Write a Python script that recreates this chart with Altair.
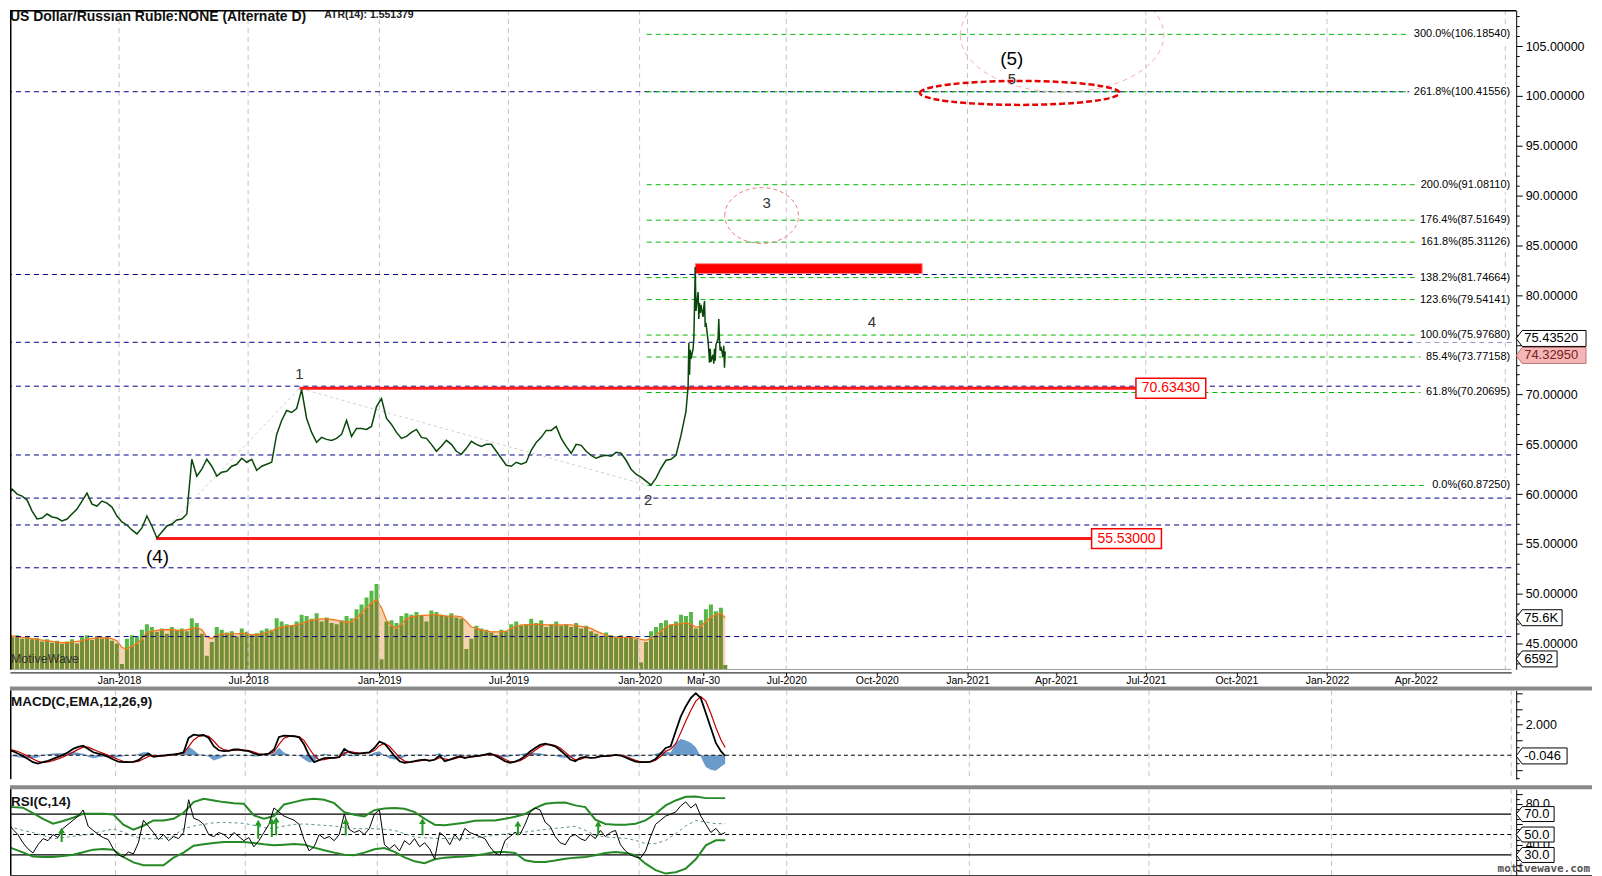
import altair as alt
import pandas as pd

FONT = "Liberation Sans"
W, H1, H2, H3 = 1505, 661, 89, 86

# ---------------- data ----------------
price_weekly_start = "2017-07-28"
price_weekly = [
    59.8, 60.5, 60.0, 59.8, 59.4, 58.3, 57.5, 57.6, 58.0, 57.7,
    57.6, 57.3, 57.5, 58.0, 58.5, 59.3, 60.1, 59.0, 58.8, 59.3,
    59.1, 58.7, 57.8, 57.2, 56.9, 56.4, 56.0, 56.6, 57.8, 56.8,
    55.6, 56.2, 56.8, 57.0, 57.4, 57.5, 58.0, 63.5, 61.8, 62.5,
    63.5, 62.8, 61.8, 62.2, 62.3, 62.8, 63.0, 63.6, 63.2, 63.5,
    62.4, 62.8, 63.0, 63.2, 66.0, 67.4, 68.4, 68.2, 68.6, 70.5,
    67.6, 66.2, 65.2, 65.7, 65.5, 65.4, 65.6, 66.0, 67.4, 65.8,
    66.6, 66.6, 66.5, 66.8, 68.8, 69.6, 67.6, 67.0, 66.2, 65.6,
    65.8, 66.2, 66.5, 65.7, 65.6, 65.0, 64.3, 64.8, 65.4, 65.0,
    64.3, 64.0, 64.6, 65.3, 65.0, 64.8, 65.0, 65.0, 64.3, 63.6,
    62.9, 62.8, 63.2, 63.0, 63.2, 64.4, 65.2, 65.7, 66.4, 66.4,
    66.8, 65.6, 64.8, 64.1, 65.0, 64.9, 64.3, 63.9, 63.6, 63.8,
    63.9, 63.8, 64.2, 64.1, 63.4, 62.5, 62.0, 61.7, 61.3, 60.9,
    61.6, 62.6, 63.4, 63.5, 63.9, 65.9, 68.3]
late_dates = [
    "2020-03-09", "2020-03-10", "2020-03-11", "2020-03-12", "2020-03-13",
    "2020-03-16", "2020-03-17", "2020-03-18", "2020-03-19", "2020-03-20",
    "2020-03-23", "2020-03-24", "2020-03-25", "2020-03-26", "2020-03-27",
    "2020-03-30", "2020-03-31", "2020-04-01", "2020-04-02", "2020-04-03",
    "2020-04-06", "2020-04-07", "2020-04-08", "2020-04-09", "2020-04-10",
    "2020-04-13", "2020-04-14", "2020-04-15", "2020-04-16", "2020-04-17",
    "2020-04-20", "2020-04-21", "2020-04-22", "2020-04-23", "2020-04-24",
    "2020-04-27", "2020-04-28", "2020-04-29", "2020-04-30"]
late_prices = [
    70.8, 75.2, 72.0, 74.5, 73.6, 74.6, 75.6, 79.0, 82.8, 78.4,
    80.3, 77.6, 79.2, 78.2, 79.0, 77.8, 78.8, 79.4, 76.8, 77.2,
    75.4, 74.4, 73.2, 74.6, 73.3, 74.0, 73.1, 74.6, 73.4, 75.0,
    75.6, 77.6, 75.4, 74.4, 74.8, 73.8, 74.9, 72.7, 74.33]

# indicators: weekly from 2017-07-28 (144 weeks) + 2020-04-30
vol_k = [
    52, 47, 50, 45, 49, 44, 46, 41, 44, 39,
    42, 37, 41, 44, 38, 47, 50, 43, 49, 45,
    48, 42, 38, 8, 45, 50, 48, 58, 66, 62,
    55, 60, 52, 62, 58, 60, 56, 75, 68, 52,
    20, 40, 62, 58, 54, 56, 48, 60, 55, 50,
    53, 57, 60, 58, 75, 70, 66, 65, 70, 80,
    78, 74, 82, 70, 76, 68, 66, 72, 78, 75,
    88, 95, 105, 115, 125, 15, 70, 72, 68, 78,
    82, 80, 84, 78, 70, 86, 84, 80, 78, 82,
    76, 74, 30, 45, 64, 60, 58, 54, 50, 58,
    56, 66, 70, 64, 66, 74, 68, 72, 62, 66,
    70, 64, 66, 62, 68, 60, 64, 56, 52, 48,
    54, 50, 48, 50, 46, 49, 44, 10, 40, 56,
    62, 68, 72, 66, 70, 80, 78, 84, 60, 72,
    88, 95, 85, 90, 6.6]
vol_ma_k = [
    49, 49, 48, 47, 46, 45, 44, 43, 42, 41,
    40, 39, 39, 40, 41, 42, 44, 45, 46, 46.5,
    46, 45, 42, 32, 30, 34, 38, 44, 54, 56,
    57, 58, 58, 58, 57, 57, 58, 60, 61, 58,
    48, 45, 50, 52, 52, 52, 52, 53, 52, 51,
    51, 52, 54, 56, 60, 62, 63, 64, 65, 67,
    70, 72, 73, 74, 74, 73, 72, 70, 69, 70,
    75, 82, 90, 97, 102, 90, 72, 64, 60, 66,
    74, 77, 78, 79, 79, 80, 80, 79, 78, 78,
    78, 77, 70, 62, 60, 58, 56, 55, 55, 55,
    56, 60, 63, 65, 65, 66, 66, 66, 65, 65,
    65, 65, 65, 65, 64, 63, 62, 60, 56, 53,
    50, 48, 47, 47, 47, 47, 46, 44, 43, 45,
    50, 56, 62, 65, 66, 67, 68, 66, 62, 63,
    70, 76, 80, 82, 75.6]
macd_vals = [
    0.37, 0.32, 0.26, 0.11, -0.06, -0.24, -0.45, -0.54, -0.45, -0.37,
    -0.24, -0.11, 0.02, 0.19, 0.41, 0.54, 0.62, 0.41, 0.19, 0.11,
    0.02, -0.11, -0.28, -0.41, -0.45, -0.45, -0.43, -0.32, -0.06, 0.11,
    -0.11, -0.06, -0.02, 0.02, 0.06, 0.11, 0.19, 1.12, 1.33, 1.29,
    1.31, 1.12, 0.58, 0.32, 0.26, 0.28, 0.37, 0.37, 0.30, 0.26,
    0.11, 0.02, 0.06, 0.11, 0.37, 1.18, 1.27, 1.25, 1.23, 1.16,
    0.69, -0.02, -0.45, -0.32, -0.19, -0.17, -0.17, -0.11, 0.41, 0.19,
    0.11, 0.11, 0.15, 0.19, 0.47, 0.88, 0.75, 0.37, -0.06, -0.39,
    -0.49, -0.45, -0.39, -0.32, -0.28, -0.37, -0.28, -0.02, -0.39, -0.28,
    -0.17, -0.06, -0.19, -0.11, -0.06, -0.02, 0.04, 0.11, -0.02, -0.19,
    -0.39, -0.49, -0.41, -0.28, -0.06, 0.24, 0.47, 0.67, 0.75, 0.67,
    0.58, 0.32, 0.04, -0.28, -0.39, -0.17, -0.11, -0.17, -0.15, -0.06,
    -0.06, -0.02, 0.02, -0.02, -0.15, -0.28, -0.41, -0.45, -0.45, -0.41,
    -0.24, 0.11, 0.47, 0.58, 1.55, 2.5, 3.16, 3.7, 4.02, 3.7,
    2.73, 1.76, 0.8, 0.26, -0.05]
signal_vals = [
    0.42, 0.38, 0.33, 0.24, 0.10, -0.06, -0.24, -0.40, -0.47, -0.44,
    -0.35, -0.24, -0.11, 0.03, 0.20, 0.38, 0.52, 0.52, 0.38, 0.24,
    0.12, 0.00, -0.14, -0.28, -0.39, -0.43, -0.44, -0.40, -0.25, -0.08,
    -0.03, -0.04, -0.05, -0.01, 0.02, 0.07, 0.13, 0.55, 0.99, 1.22,
    1.28, 1.22, 0.92, 0.55, 0.36, 0.30, 0.32, 0.35, 0.34, 0.30,
    0.20, 0.09, 0.06, 0.08, 0.22, 0.70, 1.10, 1.22, 1.24, 1.20,
    0.95, 0.45, -0.02, -0.30, -0.28, -0.20, -0.17, -0.14, 0.12, 0.25,
    0.18, 0.13, 0.13, 0.16, 0.30, 0.62, 0.76, 0.58, 0.22, -0.15,
    -0.38, -0.45, -0.42, -0.37, -0.31, -0.33, -0.31, -0.16, -0.24, -0.30,
    -0.22, -0.12, -0.14, -0.13, -0.09, -0.05, 0.00, 0.06, 0.04, -0.08,
    -0.26, -0.41, -0.44, -0.35, -0.18, 0.06, 0.32, 0.54, 0.68, 0.70,
    0.63, 0.46, 0.20, -0.08, -0.30, -0.27, -0.15, -0.15, -0.15, -0.10,
    -0.07, -0.04, 0.00, 0.00, -0.08, -0.20, -0.33, -0.42, -0.45, -0.43,
    -0.33, -0.08, 0.25, 0.40, 0.75, 1.45, 2.2, 2.9, 3.5, 3.8,
    3.5, 2.7, 1.8, 1.0, 0.5]
hist_vals = [
    -0.05, -0.06, -0.07, -0.13, -0.16, -0.18, -0.21, -0.14, 0.02, 0.07,
    0.11, 0.13, 0.13, 0.16, 0.21, 0.16, 0.10, -0.11, -0.19, -0.13,
    -0.10, -0.11, -0.14, -0.13, -0.06, -0.02, 0.01, 0.08, 0.19, 0.19,
    -0.08, -0.02, 0.03, 0.03, 0.04, 0.04, 0.06, 0.57, 0.34, 0.07,
    0.03, -0.10, -0.34, -0.23, -0.10, -0.02, 0.05, 0.02, -0.04, -0.04,
    -0.09, -0.07, 0.00, 0.03, 0.15, 0.48, 0.17, 0.03, -0.01, -0.04,
    -0.26, -0.47, -0.43, -0.02, 0.09, 0.03, 0.00, 0.03, 0.29, -0.06,
    -0.07, -0.02, 0.02, 0.03, 0.17, 0.26, -0.01, -0.21, -0.28, -0.24,
    -0.11, 0.00, 0.03, 0.05, 0.03, -0.04, 0.03, 0.14, -0.15, 0.02,
    0.05, 0.06, -0.05, 0.02, 0.03, 0.03, 0.04, 0.05, -0.06, -0.11,
    -0.13, -0.08, 0.03, 0.07, 0.12, 0.18, 0.15, 0.13, 0.07, -0.03,
    -0.05, -0.14, -0.16, -0.20, -0.09, 0.10, 0.04, -0.02, 0.00, 0.04,
    0.01, 0.02, 0.02, -0.02, -0.07, -0.08, -0.08, -0.03, 0.00, 0.02,
    0.09, 0.19, 0.22, 0.18, 0.80, 1.05, 0.96, 0.80, 0.52, -0.10,
    -0.77, -0.94, -1.00, -0.74, -0.55]
rsi_vals = [
    58, 62, 55, 50, 42, 36, 32, 40, 46, 44,
    50, 47, 56, 60, 64, 68, 74, 58, 54, 50,
    47, 45, 36, 30, 28, 33, 31, 42, 64, 58,
    52, 45, 50, 44, 48, 46, 52, 84, 66, 64,
    60, 50, 48, 52, 50, 46, 52, 48, 44, 47,
    38, 44, 52, 60, 76, 72, 68, 66, 64, 60,
    45, 34, 38, 50, 46, 48, 44, 50, 70, 55,
    52, 54, 50, 56, 70, 74, 40, 36, 40, 34,
    44, 40, 46, 38, 42, 36, 26, 52, 48, 40,
    50, 44, 56, 52, 50, 48, 46, 38, 32, 30,
    44, 48, 52, 50, 60, 72, 76, 74, 62, 58,
    48, 42, 40, 48, 50, 46, 44, 50, 46, 54,
    48, 52, 54, 40, 34, 30, 28, 27, 34, 48,
    60, 64, 68, 70, 72, 78, 82, 76, 80, 68,
    60, 52, 56, 50, 52]
# RSI bands: every two weeks from 2017-07-28 (72) + 2020-04-30
band_upper = [
    76.8, 76.8, 76.2, 71.0, 65.4, 60.6, 63.2, 66.4, 70.3, 70.3,
    70.3, 69.7, 59.6, 54.7, 58.6, 63.8, 63.8, 65.4, 71.3, 81.7,
    85.0, 83.3, 81.7, 80.7, 80.1, 68.7, 65.4, 68.1, 79.4, 81.7,
    84.0, 85.0, 84.0, 80.7, 71.9, 69.4, 67.7, 73.9, 75.5, 75.9,
    75.2, 71.9, 65.4, 59.6, 59.0, 60.3, 61.5, 63.5, 63.8, 63.8,
    65.4, 67.4, 70.0, 75.9, 80.1, 81.1, 81.4, 78.5, 76.8, 64.5,
    60.3, 59.6, 59.6, 60.6, 63.8, 70.3, 78.5, 83.3, 86.9, 87.2,
    85.6, 85.6, 85.6]
band_lower = [
    39.4, 36.2, 32.6, 28.4, 28.0, 28.0, 29.0, 30.3, 32.6, 35.2,
    35.9, 35.2, 28.0, 22.8, 19.9, 19.9, 19.9, 27.4, 32.3, 39.1,
    40.4, 41.7, 42.7, 42.7, 42.7, 41.7, 40.4, 39.4, 40.1, 40.7,
    40.1, 37.2, 34.6, 32.3, 30.3, 29.7, 32.3, 35.5, 36.8, 33.0,
    27.7, 23.8, 21.9, 25.8, 27.4, 28.0, 28.4, 29.4, 31.0, 33.0,
    33.0, 32.0, 24.8, 23.2, 23.2, 24.5, 26.4, 27.4, 28.0, 29.7,
    32.0, 33.0, 32.0, 29.7, 21.5, 15.1, 11.8, 13.1, 16.7, 25.8,
    39.4, 44.3, 44.3]
band_mid = [
    59.0, 56.7, 54.1, 51.8, 49.2, 45.9, 46.9, 48.2, 49.2, 51.1,
    53.4, 55.4, 52.4, 48.2, 45.9, 45.9, 45.9, 48.5, 55.7, 58.3,
    59.9, 61.5, 61.9, 61.5, 60.9, 59.0, 56.7, 56.0, 58.3, 59.9,
    60.3, 59.6, 59.0, 58.3, 57.0, 55.7, 55.7, 55.7, 55.0, 54.1,
    50.8, 47.6, 46.9, 46.3, 45.9, 45.9, 45.9, 46.9, 47.9, 49.2,
    50.5, 51.8, 52.4, 53.7, 55.0, 56.0, 57.0, 58.0, 54.1, 49.2,
    47.6, 46.9, 46.3, 44.3, 41.1, 41.1, 44.3, 50.8, 58.3, 63.8,
    62.2, 60.6, 60.6]
arrow_dates = ["2017-10-18", "2018-07-19", "2018-08-07", "2018-08-13",
               "2018-11-18", "2019-03-05", "2019-07-16", "2019-11-05"]
arrow_base = [42.7, 45.9, 47.6, 49.2, 49.2, 49.2, 49.2, 49.2]
arrow_tip = [54.1, 61.5, 63.2, 64.5, 63.2, 63.2, 60.6, 60.6]

fib_pct = ["300.0%", "261.8%", "200.0%", "176.4%", "161.8%", "138.2%",
           "123.6%", "100.0%", "85.4%", "61.8%", "0.0%"]
fib_val = [106.18540, 100.41556, 91.08110, 87.51649, 85.31126, 81.74664,
           79.54141, 75.97680, 73.77158, 70.20695, 60.87250]
fib_start = "2020-01-11"
blue_levels = [100.42, 82.06, 75.25, 70.84, 63.93, 59.6, 56.9, 52.6, 45.69]
red_levels = [70.6343, 55.53]
red_start = ["2018-09-11", "2018-02-22"]
red_end = ["2021-06-21", "2021-05-07"]
red_text = ["70.63430", "55.53000"]
zone_start, zone_end, zone_lo, zone_hi = "2020-03-19", "2020-11-16", 82.15, 83.15
wave_path_dates = ["2018-02-22", "2018-09-11", "2020-01-13"]
wave_path_vals = [55.53, 70.63, 60.87]
big_labels = ["(4)", "(5)"]
big_dates = ["2018-02-24", "2021-02-15"]
big_vals = [53.7, 103.7]
small_labels = ["1", "2", "3", "4", "5"]
small_dates = ["2018-09-11", "2020-01-13", "2020-06-11", "2020-09-26", "2021-02-15"]
small_vals = [72.1, 59.4, 89.2, 77.25, 101.7]
ell3 = ("2020-06-06", 87.98)
ell5_big = ("2021-04-07", 106.1)
ell5 = ("2021-02-23", 100.3)
grid_dates = ["2018-01-01", "2018-07-01", "2019-01-01", "2019-07-01", "2020-01-01",
              "2020-07-01", "2021-01-01", "2021-07-01", "2022-01-01", "2022-07-01"]
xtick_dates = ["2018-01-01", "2018-07-01", "2019-01-01", "2019-07-01", "2020-01-01",
               "2020-03-30", "2020-07-01", "2020-10-01", "2021-01-01", "2021-04-01",
               "2021-07-01", "2021-10-01", "2022-01-01", "2022-04-01"]


def ms(s):
    return int(pd.Timestamp(s, tz="UTC").value // 10**6)


def T(lst):
    return [ms(d) for d in lst]


def dstr(idx):
    return [d.strftime("%Y-%m-%d") for d in idx]


weekly_dates = dstr(pd.date_range(price_weekly_start, periods=144, freq="7D")) + ["2020-04-30"]
band_dates = dstr(pd.date_range(price_weekly_start, periods=72, freq="14D")) + ["2020-04-30"]
price_dates = dstr(pd.date_range(price_weekly_start, periods=len(price_weekly), freq="7D")) + late_dates

price_df = pd.DataFrame({"t": T(price_dates), "price": price_weekly + late_prices})
ind_df = pd.DataFrame({"t": T(weekly_dates), "vol": vol_k, "ma": vol_ma_k, "macd": macd_vals,
                       "signal": signal_vals, "hist": hist_vals, "rsi": rsi_vals})
band_df = pd.DataFrame({"t": T(band_dates), "up": band_upper, "lo": band_lower, "mid": band_mid})
fib_df = pd.DataFrame({"val": fib_val, "label": [f"{p}({v:.5f})" for p, v in zip(fib_pct, fib_val)],
                       "start": T([fib_start] * len(fib_val))})
blue_df = pd.DataFrame({"val": blue_levels})
red_df = pd.DataFrame({"val": red_levels, "start": T(red_start), "end": T(red_end), "txt": red_text})
zone_df = pd.DataFrame({"a": T([zone_start]), "b": T([zone_end]), "lo": [zone_lo], "hi": [zone_hi]})
path_df = pd.DataFrame({"t": T(wave_path_dates), "val": wave_path_vals})
big_df = pd.DataFrame({"t": T(big_dates), "val": big_vals, "txt": big_labels})
small_df = pd.DataFrame({"t": T(small_dates), "val": small_vals, "txt": small_labels})
grid_df = pd.DataFrame({"t": T(grid_dates)})
arrow_df = pd.DataFrame({"t": T(arrow_dates), "base": arrow_base, "tip": arrow_tip})
one_df = pd.DataFrame({"k": [0]})

# ---------------- scales / axes ----------------
# bar-time (history) and calendar-time (future) halves, as in the source chart
xs = alt.Scale(type="linear", domain=[ms("2017-08-07"), ms("2020-04-30"), ms("2022-07-01")],
               range=[0, 717, W], nice=False, zero=False)
ys_main = alt.Scale(domain=[42.39, 108.62], nice=False, zero=False)
ys_vol = alt.Scale(domain=[0, 964], nice=False, zero=False)
ys_macd = alt.Scale(domain=[-1.55, 4.2], nice=False, zero=False)
ys_rsi = alt.Scale(domain=[10.5, 94.4], nice=False, zero=False)

x_axis = alt.Axis(values=T(xtick_dates), title=None, grid=False, orient="bottom",
                  labelExpr="utcmonth(datum.value) == 2 ? utcFormat(datum.value, '%b-%d') : utcFormat(datum.value, '%b-%Y')",
                  offset=3, tickSize=3, tickColor="black", domainColor="black",
                  labelFont=FONT, labelFontSize=10.5, labelColor="black", labelPadding=0,
                  labelOverlap=False, labelFlush=False)


def yaxis(values, label_expr, major_test):
    return alt.Axis(orient="right", values=values, labelExpr=label_expr, title=None, grid=False,
                    tickSize={"condition": {"test": major_test, "value": 6}, "value": 3},
                    offset=5, domainColor="black", tickColor="black", labelFont=FONT,
                    labelFontSize=12.5, labelColor="black", labelPadding=3, labelOverlap=False)


# the 75 label sits under the last-price tags in the source, so it is not printed
ya_main = yaxis(list(range(43, 109)),
                "datum.value % 5 == 0 && datum.value != 75 ? format(datum.value, '.5f') : ''",
                "datum.value % 5 == 0")
ya_macd = yaxis([-1.5 + 0.5 * k for k in range(12)], "datum.value == 2 ? '2.000' : ''",
                "datum.value % 1 == 0")
ya_rsi = yaxis(list(range(15, 95, 5)), "datum.value % 40 == 0 ? format(datum.value, '.1f') : ''",
               "datum.value % 10 == 0")


def XM(f="t"):
    return alt.X(f"{f}:Q", scale=xs, axis=x_axis)


def XN(f="t"):
    return alt.X(f"{f}:Q", scale=xs, axis=None)


def YM(f):
    return alt.Y(f"{f}:Q", scale=ys_main, axis=ya_main)


def tag(value, label, w, yscale, yax, fill="white", stroke="black", tcolor="black", yoff=0, h=16):
    k = h / w
    a = -1 + 12 / w
    path = f"M -1 0 L {a:.4f} {-k:.4f} L 1 {-k:.4f} L 1 {k:.4f} L {a:.4f} {k:.4f} Z"
    base = alt.Chart(pd.DataFrame({"v": [value], "txt": [label]}))
    box = base.mark_point(shape=path, size=w * w, filled=True, fill=fill, stroke=stroke,
                          strokeWidth=1, opacity=1, yOffset=yoff).encode(
        x=alt.value(W + 5 + w / 2), y=alt.Y("v:Q", scale=yscale, axis=yax))
    txt = base.mark_text(align="left", baseline="middle", font=FONT, fontSize=13,
                         color=tcolor, yOffset=yoff).encode(
        x=alt.value(W + 5 + 8), y=alt.Y("v:Q", scale=yscale, axis=yax), text="txt:N")
    return [box, txt]


def ellipse(center, rx, ry, color, width, dash):
    k = ry / rx
    path = f"M -1 0 A 1 {k:.4f} 0 1 1 1 0 A 1 {k:.4f} 0 1 1 -1 0 Z"
    df = pd.DataFrame({"t": T([center[0]]), "val": [center[1]]})
    return alt.Chart(df).mark_point(shape=path, size=(2 * rx) ** 2, filled=False, stroke=color,
                                    strokeWidth=width, strokeDash=dash, opacity=1, clip=True).encode(
        x=XM(), y=YM("val"))


# ---------------- main panel ----------------
vol_base = alt.Chart(ind_df)
vol_layers = [
    vol_base.mark_bar(width=4, color="#58b847", clip=True).encode(
        x=XM(), y=alt.Y("vol:Q", scale=ys_vol, axis=None)),
    vol_base.mark_area(color="#f6d3b0", opacity=1, clip=True).encode(
        x=XM(), y=alt.Y("ma:Q", scale=ys_vol, axis=None)),
    vol_base.transform_calculate(low="min(datum.vol, datum.ma)").mark_bar(
        width=4, color="#728f35", clip=True).encode(
        x=XM(), y=alt.Y("low:Q", scale=ys_vol, axis=None)),
    vol_base.mark_line(color="#f07a1a", strokeWidth=1.3, clip=True).encode(
        x=XM(), y=alt.Y("ma:Q", scale=ys_vol, axis=None)),
]
vol_layers += tag(75.6, "75.6K", 46, ys_vol, None)
vol_layers += tag(6.592, "6592", 41, ys_vol, None, yoff=-6)
vol_group = alt.layer(*vol_layers)

price_layers = [
    alt.Chart(grid_df).mark_rule(color="#c4c4c4", strokeDash=[5, 4], strokeWidth=1).encode(x=XM()),
    alt.Chart(blue_df).mark_rule(color="#00008b", strokeDash=[5, 4], strokeWidth=1).encode(y=YM("val")),
    alt.Chart(fib_df).mark_rule(color="#00bb00", strokeDash=[5, 4], strokeWidth=1).encode(
        x=XM("start"), x2=alt.value(W), y=YM("val")),
    alt.Chart(fib_df).transform_calculate(bw="length(datum.label) * 11.2 + 14").mark_tick(
        orient="horizontal", thickness=15, color="white", opacity=1, clip=True).encode(
        x=alt.value(W), y=YM("val"), size=alt.Size("bw:Q", scale=None)),
    alt.Chart(fib_df).mark_text(align="right", baseline="middle", font=FONT, fontSize=11,
                                color="black").encode(x=alt.value(W - 1), y=YM("val"), text="label:N"),
    alt.Chart(path_df).mark_line(color="#cfcfcf", strokeDash=[3, 3], strokeWidth=1).encode(
        x=XM(), y=YM("val")),
    alt.Chart(red_df).mark_rule(color="#ff1a1a", strokeWidth=3).encode(
        x=XM("start"), x2="end:Q", y=YM("val")),
    alt.Chart(zone_df).mark_rect(color="#ff0000", stroke="#ff8c8c", strokeWidth=1).encode(
        x=XM("a"), x2="b:Q", y=YM("lo"), y2="hi:Q"),
    ellipse(ell5_big, 102, 57, "#f3b0b0", 1, [5, 4]),
    ellipse(ell3, 37, 28, "#f08080", 1, [4, 3]),
    ellipse(ell5, 100, 12, "#e60000", 2.5, [6, 3]),
    alt.Chart(price_df).mark_line(color="#0a470a", strokeWidth=1.5, clip=True).encode(
        x=XM(), y=YM("price")),
    alt.Chart(red_df).mark_point(
        shape="M -1 -0.2857 L 1 -0.2857 L 1 0.2857 L -1 0.2857 Z", size=4900, filled=True,
        fill="white", stroke="#ff0000", strokeWidth=1.5, opacity=1, xOffset=35).encode(
        x=XM("end"), y=YM("val")),
    alt.Chart(red_df).mark_text(align="center", baseline="middle", font=FONT, fontSize=14,
                                color="#ff0000", dx=35).encode(x=XM("end"), y=YM("val"), text="txt:N"),
    alt.Chart(big_df).mark_text(font=FONT, fontSize=19, color="black", baseline="middle").encode(
        x=XM(), y=YM("val"), text="txt:N"),
    alt.Chart(small_df).mark_text(font=FONT, fontSize=15, color="#333333", baseline="middle").encode(
        x=XM(), y=YM("val"), text="txt:N"),
    alt.Chart(one_df).mark_text(text="US Dollar/Russian Ruble:NONE (Alternate D)", align="left",
                                baseline="top", font=FONT, fontSize=14, fontWeight="bold",
                                color="#111111").encode(x=alt.value(0), y=alt.value(0)),
    alt.Chart(one_df).mark_text(text="ATR(14): 1.551379", align="left", baseline="top", font=FONT,
                                fontSize=10.5, fontWeight="bold", color="#222222").encode(
        x=alt.value(315), y=alt.value(0)),
    alt.Chart(one_df).mark_text(text="MotiveWave", align="left", baseline="middle", font=FONT,
                                fontSize=12.5, color="#333333").encode(x=alt.value(1), y=alt.value(651)),
    alt.Chart(one_df).mark_rule(color="#a0a0a0", strokeWidth=1).encode(
        x=alt.value(0), x2=alt.value(W), y=alt.value(H1)),
    alt.Chart(one_df).mark_rule(color="black", strokeWidth=1.5).encode(
        x=alt.value(0), x2=alt.value(W + 5), y=alt.value(0.75)),
    alt.Chart(one_df).mark_rule(color="black", strokeWidth=1.5).encode(
        x=alt.value(0.75), y=alt.value(0), y2=alt.value(H1)),
]
price_layers += tag(75.4352, "75.43520", 70, ys_main, ya_main, yoff=-2)
price_layers += tag(74.3295, "74.32950", 70, ys_main, ya_main, fill="#f4b6b6", stroke="#c07070",
                    tcolor="#7a2020", yoff=4)
price_group = alt.layer(*price_layers)

main = alt.layer(vol_group, price_group).resolve_scale(y="independent").properties(width=W, height=H1)

# ---------------- MACD panel ----------------
sep = alt.Chart(one_df).mark_rule(color="#8a8a8a", strokeWidth=4).encode(
    x=alt.value(0), x2=alt.value(W + 81), y=alt.value(-2))


def YD(f):
    return alt.Y(f"{f}:Q", scale=ys_macd, axis=ya_macd)


macd_layers = [
    sep,
    alt.Chart(grid_df).mark_rule(color="#c4c4c4", strokeDash=[5, 4], strokeWidth=1).encode(x=XN()),
    alt.Chart(ind_df).mark_area(color="#6b9bcb", opacity=1, clip=True).encode(x=XN(), y=YD("hist")),
    alt.Chart(one_df).transform_calculate(z="0").mark_rule(color="black", strokeDash=[4, 3],
                                                           strokeWidth=1).encode(y=YD("z")),
    alt.Chart(ind_df).mark_line(color="#c00000", strokeWidth=1.2, clip=True).encode(
        x=XN(), y=YD("signal")),
    alt.Chart(ind_df).mark_line(color="black", strokeWidth=1.8, clip=True).encode(
        x=XN(), y=YD("macd")),
    alt.Chart(one_df).mark_text(text="MACD(C,EMA,12,26,9)", align="left", baseline="middle",
                                font=FONT, fontSize=13.5, fontWeight="bold", color="#111111").encode(
        x=alt.value(1), y=alt.value(12)),
    alt.Chart(one_df).mark_rule(color="black", strokeWidth=1.5).encode(
        x=alt.value(0.75), y=alt.value(0), y2=alt.value(H2)),
]
macd_layers += tag(-0.046, "-0.046", 51, ys_macd, ya_macd)
macd = alt.layer(*macd_layers).properties(width=W, height=H2)

# ---------------- RSI panel ----------------


def YR(f):
    return alt.Y(f"{f}:Q", scale=ys_rsi, axis=ya_rsi)


lvl_df = pd.DataFrame({"v": [70, 30]})
rsi_layers = [
    sep,
    alt.Chart(grid_df).mark_rule(color="#c4c4c4", strokeDash=[5, 4], strokeWidth=1).encode(x=XN()),
    alt.Chart(lvl_df).mark_rule(color="black", strokeWidth=1.2).encode(y=YR("v")),
    alt.Chart(one_df).transform_calculate(m="50").mark_rule(color="black", strokeDash=[4, 3],
                                                            strokeWidth=1.2).encode(y=YR("m")),
    alt.Chart(band_df).mark_line(color="#5f9090", strokeDash=[3, 3], strokeWidth=1, clip=True).encode(
        x=XN(), y=YR("mid")),
    alt.Chart(band_df).mark_line(color="#258a25", strokeWidth=2, clip=True).encode(x=XN(), y=YR("up")),
    alt.Chart(band_df).mark_line(color="#258a25", strokeWidth=2, clip=True).encode(x=XN(), y=YR("lo")),
    alt.Chart(ind_df).mark_line(color="black", strokeWidth=1, clip=True).encode(x=XN(), y=YR("rsi")),
    alt.Chart(arrow_df).mark_rule(color="#1f9a1f", strokeWidth=2).encode(
        x=XN(), y=YR("base"), y2="tip:Q"),
    alt.Chart(arrow_df).mark_point(shape="triangle-up", size=45, filled=True, color="#1f9a1f",
                                   opacity=1).encode(x=XN(), y=YR("tip")),
    alt.Chart(one_df).mark_text(text="RSI(C,14)", align="left", baseline="middle",
                                font=FONT, fontSize=13.5, fontWeight="bold", color="#111111").encode(
        x=alt.value(1), y=alt.value(13)),
    alt.Chart(one_df).mark_text(text="motivewave.com", align="right", baseline="middle",
                                font="DejaVu Sans Mono", fontSize=11, fontWeight="bold",
                                color="#555555").encode(x=alt.value(W + 79), y=alt.value(80)),
    alt.Chart(one_df).mark_rule(color="black", strokeWidth=1.5).encode(
        x=alt.value(0.75), y=alt.value(0), y2=alt.value(H3)),
    alt.Chart(one_df).mark_rule(color="black", strokeWidth=1.5).encode(
        x=alt.value(0), x2=alt.value(W + 81), y=alt.value(H3 + 1)),
]
rsi_layers += tag(70, "70.0", 38, ys_rsi, ya_rsi, h=15)
rsi_layers += tag(50, "50.0", 38, ys_rsi, ya_rsi, h=15)
rsi_layers += tag(30, "30.0", 38, ys_rsi, ya_rsi, h=15)
rsi = alt.layer(*rsi_layers).properties(width=W, height=H3)

chart = alt.vconcat(main, macd, rsi, spacing=0).resolve_scale(x="independent", y="independent") \
    .properties(padding=0, background="white") \
    .configure_view(stroke=None) \
    .configure_text(font=FONT)

chart.save("out.html", embed_options={"renderer": "svg", "actions": False})
